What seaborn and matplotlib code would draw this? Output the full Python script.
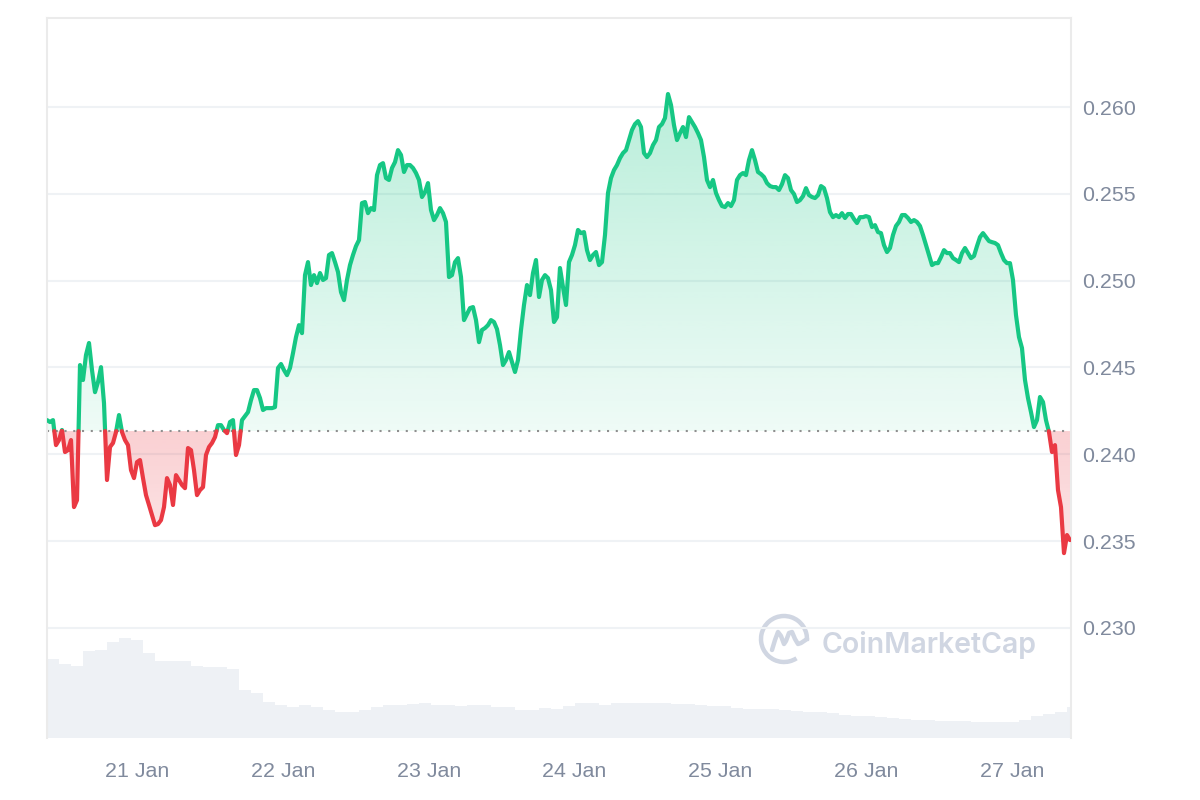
import numpy as np
import pandas as pd
import matplotlib
matplotlib.use("Agg")
import matplotlib.pyplot as plt
import matplotlib.dates as mdates
from matplotlib.path import Path
from matplotlib.patches import Arc
from matplotlib.lines import Line2D
from matplotlib.transforms import IdentityTransform
import seaborn as sns

# ---------------- data ----------------
price_start = "2025-01-20 09:11"
price_end = "2025-01-27 09:33"
price = [
    0.24197, 0.24186, 0.24197, 0.24053, 0.24082, 0.24140, 0.24013, 0.24024, 0.24082, 0.23696,
    0.23736, 0.24514, 0.24428, 0.24572, 0.24641, 0.24485, 0.24358, 0.24416, 0.24502, 0.24295,
    0.23852, 0.24042, 0.24065, 0.24128, 0.24226, 0.24128, 0.24082, 0.24053, 0.23909, 0.23863,
    0.23955, 0.23967, 0.23863, 0.23765, 0.23708, 0.23650, 0.23592, 0.23598, 0.23621, 0.23696,
    0.23863, 0.23823, 0.23708, 0.23880, 0.23852, 0.23823, 0.23805, 0.24036, 0.24024, 0.23909,
    0.23765, 0.23794, 0.23811, 0.23996, 0.24042, 0.24065, 0.24099, 0.24168, 0.24168, 0.24140,
    0.24122, 0.24186, 0.24197, 0.23996, 0.24053, 0.24197, 0.24220, 0.24243, 0.24312, 0.24370,
    0.24370, 0.24324, 0.24255, 0.24266, 0.24266, 0.24266, 0.24272, 0.24497, 0.24520, 0.24485,
    0.24456, 0.24497, 0.24583, 0.24675, 0.24744, 0.24698, 0.25032, 0.25107, 0.24975, 0.25032,
    0.24986, 0.25044, 0.25004, 0.25015, 0.25148, 0.25159, 0.25107, 0.25050, 0.24934, 0.24888,
    0.25004, 0.25090, 0.25148, 0.25199, 0.25234, 0.25447, 0.25453, 0.25389, 0.25418, 0.25407,
    0.25608, 0.25666, 0.25677, 0.25591, 0.25580, 0.25649, 0.25683, 0.25752, 0.25724, 0.25626,
    0.25666, 0.25666, 0.25649, 0.25620, 0.25580, 0.25482, 0.25510, 0.25562, 0.25407, 0.25349,
    0.25378, 0.25418, 0.25389, 0.25338, 0.25021, 0.25032, 0.25107, 0.25130, 0.25021, 0.24773,
    0.24808, 0.24842, 0.24848, 0.24773, 0.24646, 0.24716, 0.24727, 0.24744, 0.24773, 0.24762,
    0.24721, 0.24629, 0.24514, 0.24543, 0.24589, 0.24531, 0.24474, 0.24543, 0.24716, 0.24860,
    0.24975, 0.24917, 0.25044, 0.25119, 0.24906, 0.25004, 0.25032, 0.25015, 0.24946, 0.24762,
    0.24790, 0.25073, 0.24963, 0.24860, 0.25107, 0.25148, 0.25205, 0.25292, 0.25274, 0.25280,
    0.25176, 0.25119, 0.25148, 0.25165, 0.25090, 0.25107, 0.25263, 0.25505, 0.25591, 0.25637,
    0.25666, 0.25706, 0.25735, 0.25752, 0.25810, 0.25868, 0.25902, 0.25919, 0.25885, 0.25735,
    0.25712, 0.25735, 0.25781, 0.25810, 0.25885, 0.25902, 0.25937, 0.26075, 0.26012, 0.25896,
    0.25810, 0.25850, 0.25885, 0.25827, 0.25942, 0.25914, 0.25885, 0.25850, 0.25810, 0.25712,
    0.25580, 0.25539, 0.25580, 0.25505, 0.25464, 0.25430, 0.25424, 0.25447, 0.25430, 0.25464,
    0.25580, 0.25608, 0.25620, 0.25608, 0.25695, 0.25752, 0.25695, 0.25626, 0.25614, 0.25597,
    0.25562, 0.25545, 0.25539, 0.25539, 0.25522, 0.25556, 0.25608, 0.25591, 0.25522, 0.25499,
    0.25453, 0.25464, 0.25487, 0.25533, 0.25493, 0.25482, 0.25476, 0.25493, 0.25545, 0.25533,
    0.25476, 0.25395, 0.25366, 0.25378, 0.25366, 0.25389, 0.25361, 0.25384, 0.25384, 0.25355,
    0.25332, 0.25366, 0.25366, 0.25372, 0.25366, 0.25309, 0.25320, 0.25280, 0.25274, 0.25205,
    0.25165, 0.25188, 0.25263, 0.25315, 0.25338, 0.25378, 0.25378, 0.25361, 0.25338, 0.25349,
    0.25338, 0.25315, 0.25263, 0.25205, 0.25148, 0.25090, 0.25101, 0.25101, 0.25136, 0.25176,
    0.25159, 0.25159, 0.25130, 0.25119, 0.25107, 0.25159, 0.25188, 0.25159, 0.25130, 0.25142,
    0.25199, 0.25251, 0.25274, 0.25251, 0.25228, 0.25222, 0.25217, 0.25205, 0.25159, 0.25119,
    0.25101, 0.25101, 0.25004, 0.24802, 0.24675, 0.24612, 0.24428, 0.24324, 0.24243, 0.24157,
    0.24197, 0.24330, 0.24301, 0.24197, 0.24128, 0.24013, 0.24053, 0.23794, 0.23696, 0.23431,
    0.23535, 0.23506,
]
base_price = 0.24134

volume_start = "2025-01-20 09:11"
volume_end = "2025-01-27 09:06"
volume = [
    79, 74, 72, 87, 88, 96, 100, 98, 85, 77, 77, 77, 72, 71, 71, 69, 48, 45, 36, 33,
    31, 33, 31, 28, 26, 26, 28, 31, 33, 33, 34, 35, 33, 33, 32, 33, 33, 31, 31, 28,
    28, 30, 29, 32, 35, 35, 33, 35, 35, 35, 35, 35, 34, 34, 33, 32, 32, 30, 29, 29,
    29, 28, 27, 26, 26, 25, 23, 22, 22, 21, 20, 19, 18, 18, 17, 17, 17, 16, 16, 16,
    16, 18, 22, 24, 26, 31,
]

view_start = "2025-01-20 09:11"
view_end = "2025-01-27 09:43"
y_ticks = [0.230, 0.235, 0.240, 0.245, 0.250, 0.255, 0.260]
y_tick_labels = ["0.230", "0.235", "0.240", "0.245", "0.250", "0.255", "0.260"]
x_tick_dates = ["2025-01-21", "2025-01-22", "2025-01-23", "2025-01-24",
                "2025-01-25", "2025-01-26", "2025-01-27"]
x_tick_labels = ["21 Jan", "22 Jan", "23 Jan", "24 Jan", "25 Jan", "26 Jan", "27 Jan"]
y_range = (0.22366, 0.26513)

GREEN = "#16c784"
RED = "#ea3943"
LABEL = "#808a9d"
GRID = "#eff2f5"
BORDER = "#ebebeb"
VOL = "#eef1f5"
WATER = "#d0d6e2"

# ---------------- style ----------------
sns.set_theme(style="white")
plt.rcParams["font.family"] = ["Liberation Sans", "DejaVu Sans"]

fig = plt.figure(figsize=(12, 8), dpi=100)
ax = fig.add_axes([47 / 1200, 62 / 800, 1024 / 1200, 720 / 800])
ax2 = ax.twinx()

t = pd.date_range(price_start, price_end, periods=len(price))
x = mdates.date2num(t.to_pydatetime())
p = np.array(price)

# ---------------- volume ----------------
vt = pd.date_range(volume_start, volume_end, periods=len(volume))
vx = np.append(mdates.date2num(vt.to_pydatetime()), mdates.date2num(pd.Timestamp(view_end)))
vv = np.append(np.array(volume, dtype=float), volume[-1])
ax2.fill_between(vx, 0, vv, step="post", color=VOL, lw=0)
ax2.set_ylim(0, 720)
ax2.set_yticks([])
for s in ax2.spines.values():
    s.set_visible(False)
ax.set_zorder(ax2.get_zorder() + 1)
ax.patch.set_visible(False)

# ---------------- gradient fills ----------------
def gradient_fill(where, color, lo, hi, a_lo, a_hi):
    coll = ax.fill_between(x, p, base_price, where=where, interpolate=True,
                           facecolor="none", edgecolor="none")
    path = Path.make_compound_path(*coll.get_paths())
    rgb = matplotlib.colors.to_rgb(color)
    n = 256
    img = np.zeros((n, 1, 4))
    img[:, 0, :3] = rgb
    img[:, 0, 3] = np.linspace(a_lo, a_hi, n)
    im = ax.imshow(img, extent=[x[0], x[-1], lo, hi], origin="lower",
                   aspect="auto", interpolation="bilinear", zorder=1)
    im.set_clip_path(path, ax.transData)

gradient_fill(p >= base_price, GREEN, base_price, p.max(), 0.07, 0.30)
gradient_fill(p <= base_price, RED, p.min(), base_price, 0.13, 0.24)

# ---------------- price line split at base ----------------
rows = []
seg = 0
side = "up" if p[0] >= base_price else "down"
rows.append((x[0], p[0], seg, side))
for i in range(1, len(p)):
    new_side = "up" if p[i] >= base_price else "down"
    if new_side != side:
        xc = x[i - 1] + (base_price - p[i - 1]) / (p[i] - p[i - 1]) * (x[i] - x[i - 1])
        rows.append((xc, base_price, seg, side))
        seg += 1
        side = new_side
        rows.append((xc, base_price, seg, side))
    rows.append((x[i], p[i], seg, side))
df = pd.DataFrame(rows, columns=["x", "price", "seg", "side"])
sns.lineplot(data=df, x="x", y="price", hue="side", units="seg", estimator=None,
             sort=False, palette={"up": GREEN, "down": RED}, linewidth=3.0,
             legend=False, ax=ax, zorder=3, solid_joinstyle="round", solid_capstyle="round")

ax.axhline(base_price, color="#8f8f8f", lw=1.5, ls=(0, (1, 3.2)), zorder=2,
           dash_capstyle="butt")

# ---------------- axes ----------------
ax.set_xlim(mdates.date2num(pd.Timestamp(view_start)), mdates.date2num(pd.Timestamp(view_end)))
ax.set_ylim(*y_range)
ax.yaxis.tick_right()
ax.set_yticks(y_ticks)
ax.set_yticklabels(y_tick_labels)
ax.set_xticks(mdates.date2num(pd.to_datetime(x_tick_dates).to_pydatetime()))
ax.set_xticklabels(x_tick_labels)
ax.tick_params(axis="y", length=0, pad=8, labelsize=15.4, labelcolor=LABEL,
               right=False, labelright=True, left=False, labelleft=False)
ax.tick_params(axis="x", length=0, pad=17, labelsize=15.4, labelcolor=LABEL)
ax.set_xlabel("")
ax.set_ylabel("")
ax.grid(axis="y", color=GRID, lw=1.5, zorder=0)
ax.grid(axis="x", visible=False)
ax.set_axisbelow(True)
for name in ["left", "top", "right"]:
    ax.spines[name].set_visible(True)
    ax.spines[name].set_color(BORDER)
    ax.spines[name].set_linewidth(1.5)
ax.spines["bottom"].set_visible(False)

# ---------------- watermark ----------------
cx, cy = 784, 800 - 639
fig.add_artist(Arc((cx, cy), 46, 46, theta1=-5, theta2=303, lw=3.2, color=WATER,
                   transform=IdentityTransform()))
wx = [-12, -9, -6, -3, 0, 2, 5, 8, 11, 14, 17, 20, 23]
wy = [-11, -1, 7, 3, -5, -2, 6, 7, 0, -5, -4, -2, 0]
fig.add_artist(Line2D([cx + a for a in wx], [cy + b for b in wy], lw=3.2, color=WATER,
                      solid_joinstyle="round", solid_capstyle="round",
                      transform=IdentityTransform()))
fig.text(822 / 1200, (800 - 653) / 800, "CoinMarketCap", fontsize=20.5, fontweight="semibold",
         family=["Inter", "DejaVu Sans"], color=WATER, va="baseline", ha="left")

fig.savefig("out.png", dpi=100)
